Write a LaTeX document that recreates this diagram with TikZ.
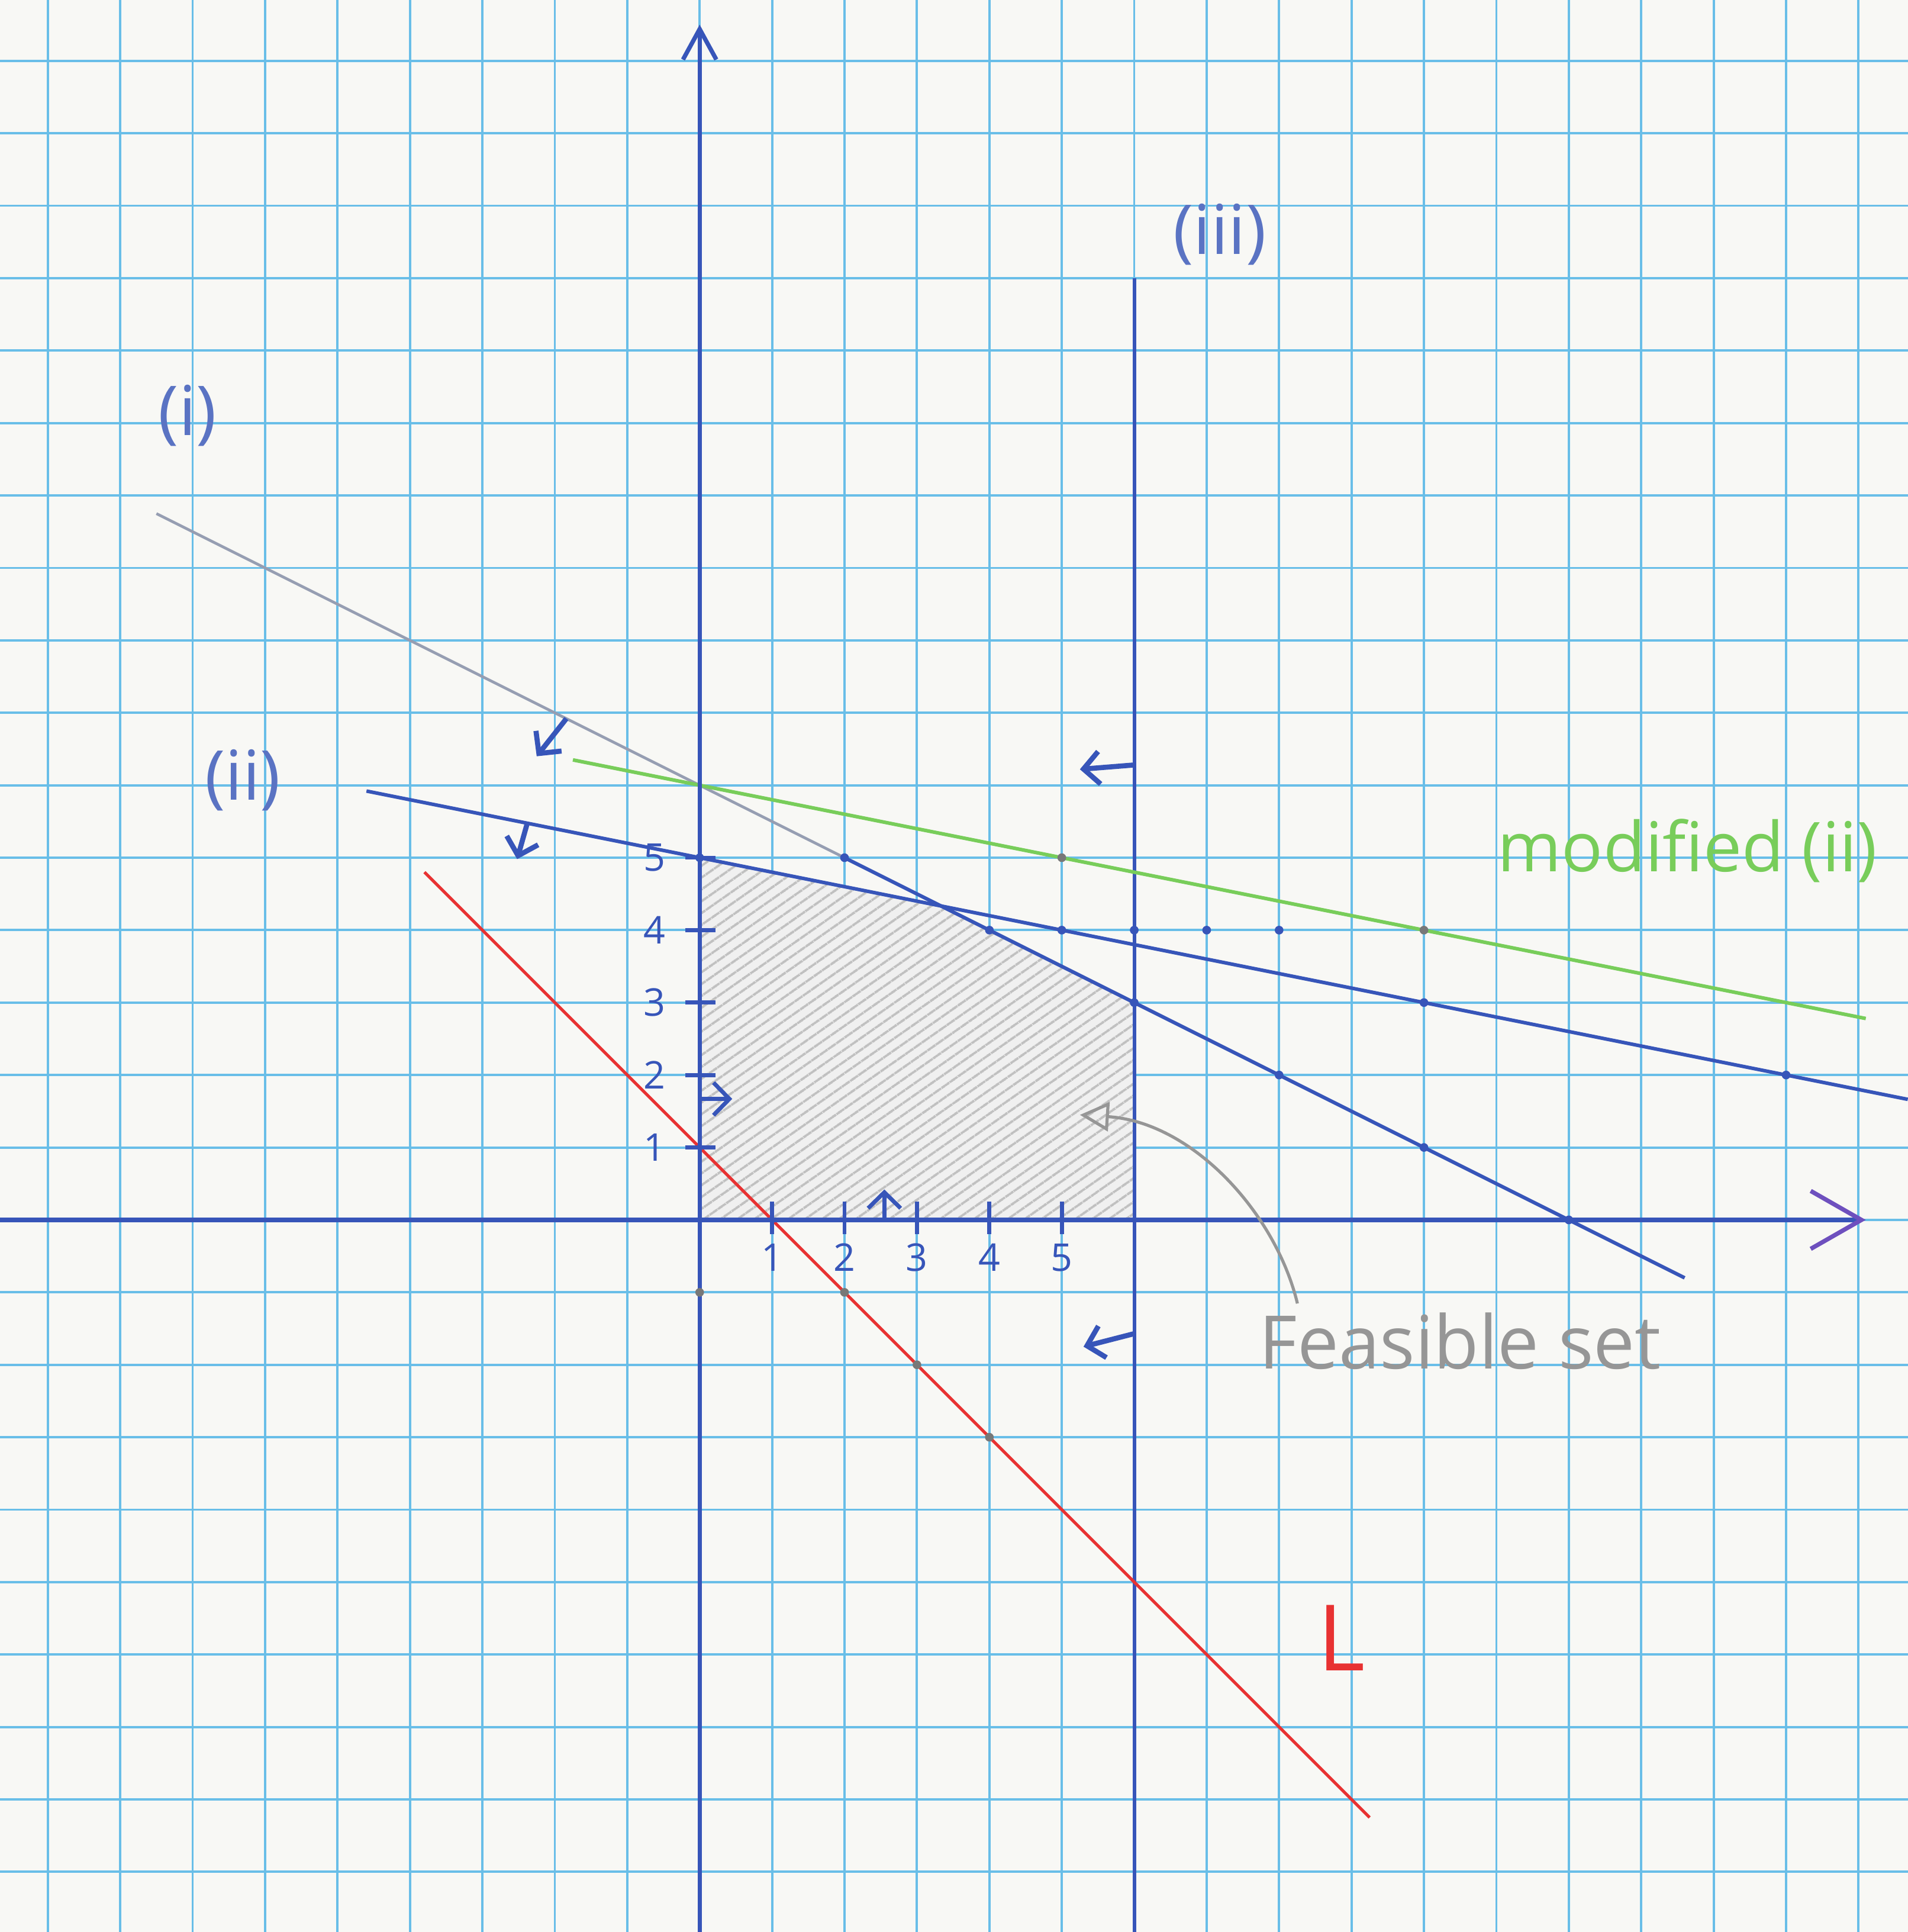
\documentclass[tikz,border=0pt]{standalone}
\usepackage{fontspec}
\setmainfont{Open Sans}
\usetikzlibrary{arrows.meta,patterns.meta}
\definecolor{paper}{RGB}{248,248,245}
\definecolor{gridblue}{RGB}{105,190,232}
\definecolor{pen}{RGB}{55,85,185}
\definecolor{penlight}{RGB}{90,115,195}
\definecolor{pencil}{RGB}{150,150,150}
\definecolor{greypen}{RGB}{150,158,178}
\definecolor{greenpen}{RGB}{120,205,90}
\definecolor{redpen}{RGB}{232,50,50}
\definecolor{violetpen}{RGB}{110,80,190}
\begin{document}
\begin{tikzpicture}[x=1cm, y=1cm,
  gridline/.style={gridblue, line width=0.9pt},
  penline/.style={pen, line width=1.4pt},
  dirarrow/.style={pen, line width=2pt, -{Straight Barb[length=2.2mm,width=4.5mm]}},
  tickmark/.style={pen, line width=1.6pt},
  ticklab/.style={text=pen, font=\fontsize{15}{17}\selectfont},
  lab/.style={text=penlight, font=\fontsize{27}{30}\selectfont}]
 \useasboundingbox (-9.66,-9.83) rectangle (16.68,16.84);
 \fill[paper] (-9.66,-9.83) rectangle (16.68,16.84);
 \draw[gridline] (-9.66,-9.83) grid (16.68,16.84);
 % feasible set, pencil hatching
 \fill[gray!12] (0,0) -- (0,5) -- (10/3,13/3) -- (6,3) -- (6,0) -- cycle;
 \fill[pattern={Lines[angle=35,distance=4pt,line width=1pt]}, pattern color=pencil!60]
   (0,0) -- (0,5) -- (10/3,13/3) -- (6,3) -- (6,0) -- cycle;
 % constraints (i), (ii), (iii), modified (ii) and L
 \draw[greypen, line width=1.1pt] (-7.5,9.75) -- (2,5);
 \draw[penline] (2,5) -- (13.6,-0.8);
 \draw[penline] (-4.6,5.92) -- (16.68,1.664);
 \draw[penline] (6,13) -- (6,-9.83);
 \draw[greenpen, line width=1.4pt] (-1.75,6.35) -- (16.1,2.78);
 \draw[redpen, line width=1.2pt] (-3.8,4.8) -- (9.25,-8.25);
 % axes
 \draw[pen, line width=1.7pt, -{Straight Barb[length=7mm,width=8mm,color=violetpen]}] (-9.66,0) -- (16.1,0);
 \draw[pen, line width=1.7pt, -{Straight Barb[length=4.2mm,width=4.6mm]}] (0,-9.83) -- (0,16.5);
 \foreach \k in {1,...,5} {
   \draw[tickmark] (\k,0.25) -- (\k,-0.2);
   \draw[tickmark] (-0.2,\k) -- (0.22,\k);
   \node[ticklab] (xl\k) at (\k,-0.52) {\k};
   \node[ticklab] (yl\k) at (-0.62,\k) {\k};
 }
 % marked points
 \foreach \p in {(2,5),(4,4),(6,3),(8,2),(10,1),(12,0),(0,5),(5,4),(10,3),(15,2),(6,4),(7,4),(8,4)}
   \fill[pen] \p circle (0.06);
 \foreach \p in {(5,5),(10,4),(2,-1),(3,-2),(4,-3),(0,-1)}
   \fill[pencil!80!black] \p circle (0.06);
 % sides of the constraints
 \draw[dirarrow] (-1.84,6.92) -- (-2.25,6.4);
 \draw[dirarrow] (-2.38,5.476) -- (-2.52,4.98);
 \draw[dirarrow] (6,6.28) -- (5.25,6.22);
 \draw[dirarrow] (6,-1.57) -- (5.3,-1.75);
 \draw[dirarrow, line width=1.6pt] (0,1.67) -- (0.45,1.67);
 \draw[dirarrow, line width=1.6pt] (2.55,0) -- (2.55,0.42);
 % labels
 \node[lab] (li) at (-7.07,11.1) {(i)};
 \node[lab] (lii) at (-6.31,6.07) {(ii)};
 \node[lab] (liii) at (7.18,13.6) {(iii)};
 \node[lab, text=greenpen] (lmod) at (13.64,5.1) {modified (ii)};
 \node[text=redpen, font=\fontsize{36}{40}\selectfont] (lL) at (8.86,-5.77) {L};
 \node[text=pencil, font=\fontsize{29}{32}\selectfont] (feas) at (10.5,-1.67) {Feasible set};
 \coordinate (feastip) at (5.25,1.45);
 \draw[pencil, line width=1.2pt, -{Triangle[open,length=4mm,width=4mm]}]
   ([xshift=6.5mm]feas.north west) .. controls (7.95,0.1) and (6.8,1.35) .. (feastip);
\end{tikzpicture}
\end{document}
